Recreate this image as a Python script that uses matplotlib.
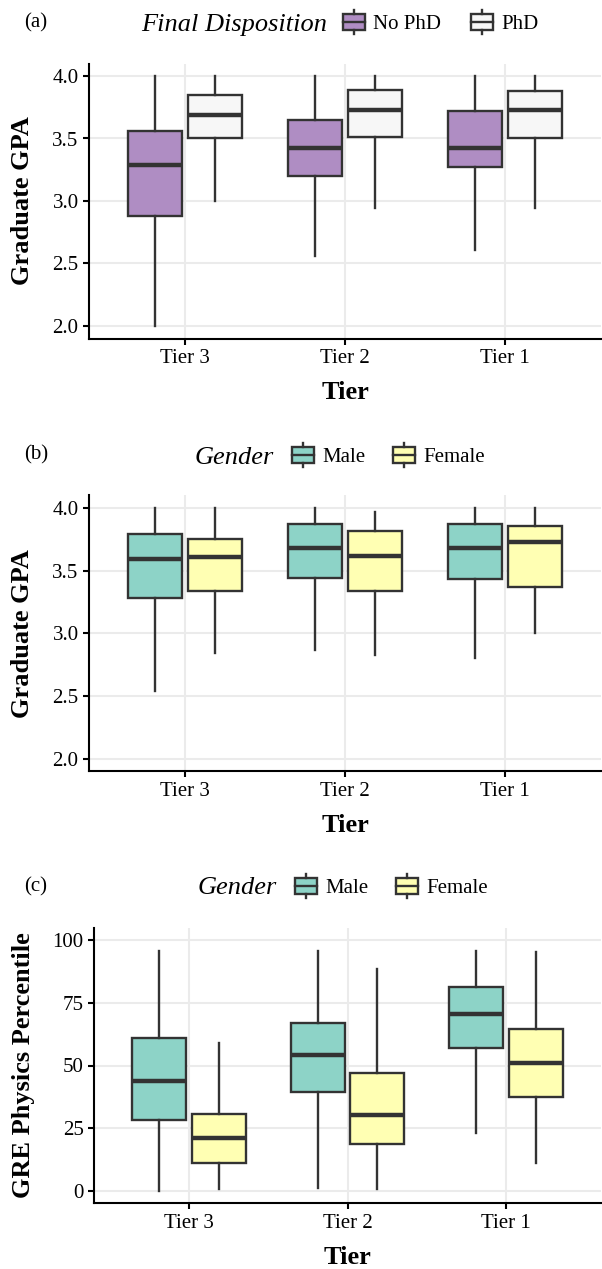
import matplotlib
matplotlib.use("Agg")
import matplotlib.pyplot as plt
from matplotlib.patches import Rectangle
from matplotlib.lines import Line2D

# ---- data: [whisker low, Q1, median, Q3, whisker high] per tier ----
tiers = ["Tier 3", "Tier 2", "Tier 1"]

# (a) Graduate GPA by final disposition
gpa_nophd = [[2.00, 2.88, 3.29, 3.56, 4.00],
             [2.56, 3.20, 3.42, 3.65, 4.00],
             [2.61, 3.27, 3.42, 3.72, 4.00]]
gpa_phd = [[3.00, 3.50, 3.69, 3.85, 4.00],
           [2.94, 3.51, 3.73, 3.89, 4.00],
           [2.94, 3.50, 3.73, 3.88, 4.00]]

# (b) Graduate GPA by gender
gpa_male = [[2.54, 3.28, 3.59, 3.79, 4.00],
            [2.87, 3.44, 3.68, 3.87, 4.00],
            [2.80, 3.43, 3.68, 3.87, 4.00]]
gpa_female = [[2.84, 3.34, 3.61, 3.75, 4.00],
              [2.83, 3.34, 3.62, 3.82, 3.97],
              [3.00, 3.37, 3.73, 3.86, 4.00]]

# (c) GRE physics percentile by gender
gre_male = [[0.0, 28.1, 43.9, 60.9, 95.9],
            [1.1, 39.3, 54.1, 67.0, 95.9],
            [23.2, 57.0, 70.6, 81.5, 95.9]]
gre_female = [[0.5, 10.9, 20.9, 30.8, 59.0],
              [0.5, 18.6, 30.1, 46.9, 88.5],
              [10.9, 37.5, 50.9, 64.4, 95.3]]

gpa_ticks = [2.0, 2.5, 3.0, 3.5, 4.0]
gpa_ticklabels = ["2.0", "2.5", "3.0", "3.5", "4.0"]
gre_ticks = [0, 25, 50, 75, 100]
gre_ticklabels = ["0", "25", "50", "75", "100"]

W, H, DPI = 602, 1269, 100
EDGE = "#333333"
GRID = "#EBEBEB"
SERIF = ["Liberation Serif", "DejaVu Serif"]
LW = 1.7

plt.rcParams["font.family"] = SERIF
plt.rcParams["axes.linewidth"] = 1.5

fig = plt.figure(figsize=(W / DPI, H / DPI), dpi=DPI)


def fx(x):
    return x / W


def fy(y):
    return 1 - y / H


def make_axes(left, top, right, bottom):
    return fig.add_axes([fx(left), fy(bottom), (right - left) / W, (bottom - top) / H])


def stats(rows):
    return [dict(whislo=r[0], q1=r[1], med=r[2], q3=r[3], whishi=r[4], fliers=[])
            for r in rows]


def draw_panel(ax, left_rows, right_rows, colors, ylim, ticks, ticklabels, ylabel):
    ax.set_axisbelow(True)
    ax.grid(True, color=GRID, lw=1.5)
    for rows, off, col in [(left_rows, -0.1875, colors[0]), (right_rows, 0.1875, colors[1])]:
        pos = [i + off for i in range(len(tiers))]
        ax.bxp(stats(rows), positions=pos, widths=0.34, patch_artist=True,
               showcaps=False, showfliers=False, manage_ticks=False,
               boxprops=dict(facecolor=col, edgecolor=EDGE, lw=LW),
               whiskerprops=dict(color=EDGE, lw=LW),
               medianprops=dict(color=EDGE, lw=3.2, solid_capstyle="butt"))
    ax.set_xlim(-0.6, len(tiers) - 0.4)
    ax.set_ylim(*ylim)
    ax.set_xticks(range(len(tiers)))
    ax.set_xticklabels(tiers)
    ax.set_yticks(ticks)
    ax.set_yticklabels(ticklabels)
    ax.tick_params(labelsize=15, length=4.5, width=1.5, pad=3, colors="black")
    for s in ["top", "right"]:
        ax.spines[s].set_visible(False)
    ax.set_xlabel("Tier", fontsize=19, fontweight="bold")
    ax.set_ylabel(ylabel, fontsize=19, fontweight="bold")
    ax.xaxis.label.set_va("center")
    ax.yaxis.label.set_va("center")


def legend_key(xc, yc, color):
    fig.add_artist(Rectangle((fx(xc - 11), fy(yc + 8)), 22 / W, 16 / H,
                             transform=fig.transFigure, facecolor=color,
                             edgecolor=EDGE, lw=LW))
    fig.add_artist(Line2D([fx(xc - 11), fx(xc + 11)], [fy(yc), fy(yc)],
                          transform=fig.transFigure, color=EDGE, lw=LW))
    for y0, y1 in [(yc - 8, yc - 12), (yc + 8, yc + 12)]:
        fig.add_artist(Line2D([fx(xc), fx(xc)], [fy(y0), fy(y1)],
                              transform=fig.transFigure, color=EDGE, lw=LW))


def legend(yc, title, title_x, entries):
    fig.text(fx(title_x), fy(yc), title, fontsize=19, style="italic",
             ha="left", va="center_baseline")
    for key_x, label, color in entries:
        legend_key(key_x, yc, color)
        fig.text(fx(key_x + 19), fy(yc), label, fontsize=15,
                 ha="left", va="center_baseline")


# panel (a)
ax_a = make_axes(89, 63.5, 601, 338.5)
draw_panel(ax_a, gpa_nophd, gpa_phd, ["#AF8DC3", "#F7F7F7"],
           (1.9, 4.1), gpa_ticks, gpa_ticklabels, "Graduate GPA")
ax_a.xaxis.set_label_coords(0.5, -0.198)
ax_a.yaxis.set_label_coords(-0.129, 0.5)
fig.text(fx(24), fy(20), "(a)", fontsize=15, ha="left", va="center_baseline")
legend(22, "Final Disposition", 141,
       [(354, "No PhD", "#AF8DC3"), (482, "PhD", "#F7F7F7")])

# panel (b)
ax_b = make_axes(89, 495.5, 601, 771.2)
draw_panel(ax_b, gpa_male, gpa_female, ["#8DD3C7", "#FFFFB3"],
           (1.9, 4.1), gpa_ticks, gpa_ticklabels, "Graduate GPA")
ax_b.xaxis.set_label_coords(0.5, -0.198)
ax_b.yaxis.set_label_coords(-0.129, 0.5)
fig.text(fx(24), fy(452), "(b)", fontsize=15, ha="left", va="center_baseline")
legend(455, "Gender", 195,
       [(303, "Male", "#8DD3C7"), (404, "Female", "#FFFFB3")])

# panel (c)
ax_c = make_axes(94, 927.8, 601, 1203.2)
draw_panel(ax_c, gre_male, gre_female, ["#8DD3C7", "#FFFFB3"],
           (-5, 105), gre_ticks, gre_ticklabels, "GRE Physics Percentile")
ax_c.xaxis.set_label_coords(0.5, -0.198)
ax_c.yaxis.set_label_coords(-0.14, 0.5)
fig.text(fx(24), fy(884), "(c)", fontsize=15, ha="left", va="center_baseline")
legend(886, "Gender", 198,
       [(306, "Male", "#8DD3C7"), (407, "Female", "#FFFFB3")])

fig.savefig("out.png", dpi=DPI)
